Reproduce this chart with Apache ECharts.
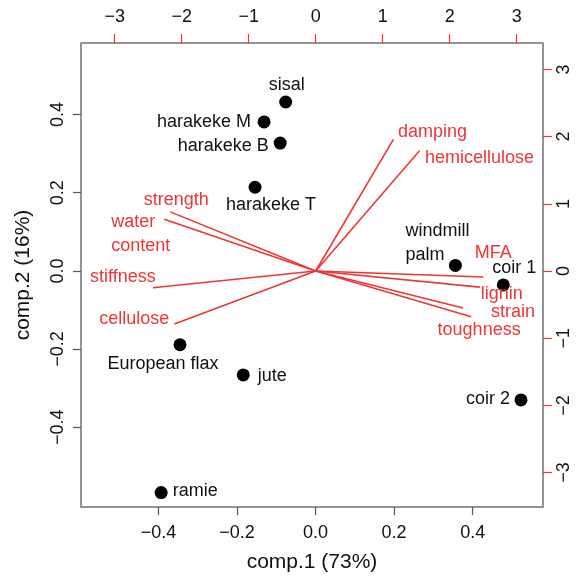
<!DOCTYPE html>
<html>
<head>
<meta charset="utf-8">
<script src="https://cdn.jsdelivr.net/npm/echarts@6/dist/echarts.min.js"></script>
<style>
  html, body { margin: 0; padding: 0; background: #fff; }
  #biplot { width: 577px; height: 581px; }
</style>
</head>
<body>
<div id="biplot"></div>
<script>
// fibre scores (bottom / left axes)
const fibres = ['sisal', 'harakeke M', 'harakeke B', 'harakeke T', 'windmill\npalm',
  'coir 1', 'European flax', 'jute', 'coir 2', 'ramie'];
const comp1 = [-0.076, -0.131, -0.090, -0.154, 0.356, 0.478, -0.345, -0.184, 0.523, -0.393];
const comp2 = [0.432, 0.381, 0.327, 0.214, 0.014, -0.036, -0.189, -0.266, -0.330, -0.567];

// property loadings (top / right axes)
const props = ['damping', 'hemicellulose', 'strength', 'water\ncontent', 'stiffness',
  'cellulose', 'MFA', 'lignin', 'strain', 'toughness'];
const load1 = [1.16, 1.55, -2.17, -2.26, -2.43, -2.11, 2.50, 2.45, 2.20, 2.32];
const load2 = [1.96, 1.79, 0.88, 0.77, -0.25, -0.79, -0.09, -0.24, -0.55, -0.68];

// tick labels
const scoreTicks = [-0.4, -0.2, 0, 0.2, 0.4];
const loadTicks = [-3, -2, -1, 0, 1, 2, 3];

const RED = '#f03535';
const INK = '#111';
const FONT = '"Liberation Sans", Arial, sans-serif';

// label placement, pixels from the mark
const fibreLabel = {
  'sisal': { offset: [1, -17] },
  'harakeke M': { offset: [-60, 0] },
  'harakeke B': { offset: [-57, 3] },
  'harakeke T': { offset: [16, 18] },
  'windmill\npalm': { offset: [-50, -22], align: 'left' },
  'coir 1': { offset: [11, -17] },
  'European flax': { offset: [-17, 19] },
  'jute': { offset: [29, 1] },
  'coir 2': { offset: [-33, -1] },
  'ramie': { offset: [34, -2] }
};
const propLabel = {
  'damping': { offset: [39, -7] },
  'hemicellulose': { offset: [60, 7] },
  'strength': { offset: [6, -12] },
  'water\ncontent': { offset: [-53, 15], align: 'left' },
  'stiffness': { offset: [-30, -11] },
  'cellulose': { offset: [-40, -5] },
  'MFA': { offset: [10, -24] },
  'lignin': { offset: [22, 7] },
  'strain': { offset: [50, 4] },
  'toughness': { offset: [8, 13] }
};

const fmt = v => {
  const s = Math.abs(v) < 1e-9 ? '0' : String(v);
  return s.replace('-', '\u2212');
};
const fmt1 = v => (Math.abs(v) < 1e-9 ? '0.0' : v.toFixed(1)).replace('-', '\u2212');

const chart = echarts.init(document.getElementById('biplot'));

const labelText = { fontFamily: FONT, fontSize: 18 };

chart.setOption({
  animation: false,
  backgroundColor: '#fff',
  grid: {
    left: 81, right: 34, top: 43, bottom: 74,
    show: true, borderColor: '#707070', borderWidth: 1.5, backgroundColor: 'transparent'
  },
  xAxis: [
    {
      type: 'value', position: 'bottom', min: -0.597, max: 0.579,
      name: 'comp.1 (73%)', nameLocation: 'middle', nameGap: 45,
      nameTextStyle: { fontFamily: FONT, fontSize: 21, color: INK },
      axisLine: { show: false, onZero: false },
      axisTick: { show: true, length: 8, customValues: scoreTicks, lineStyle: { color: '#555', width: 1.2 } },
      axisLabel: { customValues: scoreTicks, formatter: fmt1, margin: 17, fontFamily: FONT, fontSize: 18, color: INK },
      splitLine: { show: false }
    },
    {
      type: 'value', position: 'top', min: -3.503, max: 3.393,
      axisLine: { show: false, onZero: false },
      axisTick: { show: true, length: 9, customValues: loadTicks, lineStyle: { color: RED, width: 1.2 } },
      axisLabel: { customValues: loadTicks, formatter: fmt, margin: 17, fontFamily: FONT, fontSize: 18, color: INK },
      splitLine: { show: false }
    }
  ],
  yAxis: [
    {
      type: 'value', position: 'left', min: -0.604, max: 0.583,
      name: 'comp.2 (16%)', nameLocation: 'middle', nameGap: 47, nameRotate: 90,
      nameTextStyle: { fontFamily: FONT, fontSize: 21, color: INK },
      axisLine: { show: false, onZero: false },
      axisTick: { show: true, length: 8, customValues: scoreTicks, lineStyle: { color: '#555', width: 1.2 } },
      axisLabel: { customValues: scoreTicks, formatter: fmt1, rotate: 90, margin: 14, fontFamily: FONT, fontSize: 18, color: INK },
      splitLine: { show: false }
    },
    {
      type: 'value', position: 'right', min: -3.512, max: 3.393,
      axisLine: { show: false, onZero: false },
      axisTick: { show: true, length: 9, customValues: loadTicks, lineStyle: { color: RED, width: 1.2 } },
      axisLabel: { customValues: loadTicks, formatter: fmt, rotate: 90, margin: 12, fontFamily: FONT, fontSize: 18, color: INK },
      splitLine: { show: false }
    }
  ],
  series: [
    {
      type: 'lines',
      coordinateSystem: 'cartesian2d',
      xAxisIndex: 1, yAxisIndex: 1,
      silent: true,
      lineStyle: { color: RED, width: 1.6, opacity: 1 },
      data: props.map((p, i) => ({ coords: [[0, 0], [load1[i], load2[i]]] }))
    },
    {
      type: 'scatter',
      xAxisIndex: 1, yAxisIndex: 1,
      symbolSize: 1,
      silent: true,
      itemStyle: { color: 'transparent', opacity: 1 },
      label: {
        show: true, position: 'inside', formatter: p => p.name,
        color: RED, lineHeight: 24, ...labelText
      },
      data: props.map((p, i) => ({
        name: p, value: [load1[i], load2[i]],
        label: { offset: propLabel[p].offset, align: propLabel[p].align || 'center' }
      }))
    },
    {
      type: 'scatter',
      xAxisIndex: 0, yAxisIndex: 0,
      symbol: 'circle', symbolSize: 13,
      silent: true,
      itemStyle: { color: '#000', opacity: 1 },
      label: {
        show: true, position: 'inside', formatter: p => p.name,
        color: INK, lineHeight: 24, ...labelText
      },
      data: fibres.map((f, i) => ({
        name: f, value: [comp1[i], comp2[i]],
        label: { offset: fibreLabel[f].offset, align: fibreLabel[f].align || 'center' }
      }))
    }
  ]
});
</script>
</body>
</html>
